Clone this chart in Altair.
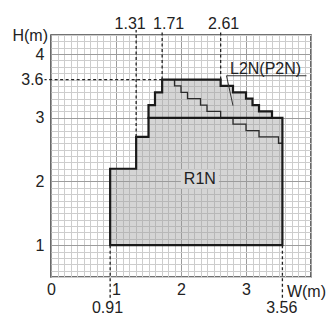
import altair as alt
import pandas as pd

# ---------------- data ----------------
# R1N envelope: step heights (m) starting at each width (m), standing on H = 1
r1n_x = [0.91, 1.31, 1.50, 3.56]
r1n_h = [2.2, 2.7, 3.0, 3.0]
r1n_base = 1.0

# L2N(P2N) envelope above R1N's top (H = 3)
l2n_x = [1.50, 1.60, 1.71, 2.61, 2.80, 3.00, 3.10, 3.20, 3.40]
l2n_h = [3.2, 3.4, 3.6, 3.5, 3.4, 3.3, 3.2, 3.1, 3.0]
l2n_base = 3.0

# thin inner staircases
upper_x = [1.90, 1.90, 2.00, 2.10, 2.30, 2.40, 2.61]
upper_h = [3.6, 3.5, 3.4, 3.3, 3.2, 3.1, 3.0]
lower_x = [2.80, 2.80, 3.00, 3.20, 3.50, 3.56]
lower_h = [3.0, 2.9, 2.8, 2.7, 2.6, 2.6]

# dimension marks
top_dims = [1.31, 1.71, 2.61]
top_dims_from = [2.7, 3.6, 3.6]
bottom_dims = [0.91, 3.56]
height_dim = 3.6

x_labels = [0, 1, 2, 3]
y_labels = [1, 2, 3, 4]
x_domain = [0, 4]
y_domain = [0.5, 4.3]
grid_step = 0.1

# ---------------- styles ----------------
FONT = "Liberation Sans"
INK = "#222222"
FS = 16
top_dx = [-6, 6.5, 3]
bottom_dx = [-2.7, -0.7]

x_grid = [round(x_domain[0] + i * grid_step, 1)
          for i in range(int(round((x_domain[1] - x_domain[0]) / grid_step)) + 1)]
y_grid = [round(y_domain[0] + i * grid_step, 1)
          for i in range(int(round((y_domain[1] - y_domain[0]) / grid_step)) + 1)]

grid_color = {"condition": {"test": "datum.value % 1 === 0", "value": "#9c9c9c"},
              "value": "#cdcdcd"}

x_axis = alt.Axis(values=x_grid, grid=True, gridColor=grid_color, gridWidth=1,
                  ticks=False, domain=False, labelFlush=False, labelOverlap=False,
                  labelExpr=f"indexof({x_labels}, datum.value) >= 0 ? format(datum.value, 'd') : ''",
                  labelPadding=4, labelFontSize=FS, labelFont=FONT, labelColor=INK,
                  title=None, orient="bottom")
y_axis = alt.Axis(values=y_grid, grid=True, gridColor=grid_color, gridWidth=1,
                  ticks=False, domain=False, labelFlush=False, labelOverlap=False,
                  labelExpr=f"indexof({y_labels}, datum.value) >= 0 ? format(datum.value, 'd') : ''",
                  labelPadding=7, labelFontSize=FS, labelFont=FONT, labelColor=INK,
                  title=None, orient="left")

xs = alt.Scale(domain=x_domain, nice=False, zero=False)
ys = alt.Scale(domain=y_domain, nice=False, zero=False)


def X(field="x"):
    return alt.X(f"{field}:Q", scale=xs, axis=x_axis, title=None)


def Y(field="h"):
    return alt.Y(f"{field}:Q", scale=ys, axis=y_axis, title=None)


def frame(xv, hv):
    return pd.DataFrame({"x": xv, "h": hv, "i": list(range(len(xv)))})


def closed(xv, hv, base):
    return frame([xv[0]] + xv + [xv[-1], xv[0]], [base] + hv + [base, base])


layers = []

# filled envelopes
layers.append(alt.Chart(frame(r1n_x, r1n_h)).mark_area(
    interpolate="step-after", color="#9a9a9a", opacity=0.42).encode(
    x=X(), y=Y(), y2=alt.datum(r1n_base)))
layers.append(alt.Chart(frame(l2n_x, l2n_h)).mark_area(
    interpolate="step-after", color="#9a9a9a", opacity=0.42).encode(
    x=X(), y=Y(), y2=alt.datum(l2n_base)))

# R1N label with background box
r1n_lbl = pd.DataFrame({"x": [2.29], "h": [2.04], "t": ["R1N"]})
layers.append(alt.Chart(r1n_lbl).mark_point(
    shape="M-1,-0.5L1,-0.5L1,0.5L-1,0.5Z", size=1444, filled=True,
    color="#d6d6d6", opacity=1, strokeWidth=0).encode(x=X(), y=Y()))
layers.append(alt.Chart(r1n_lbl).mark_text(
    font=FONT, fontSize=FS, color=INK, baseline="middle", align="center").encode(
    x=X(), y=Y(), text="t:N"))

# thin staircases
for xv, hv in [(upper_x, upper_h), (lower_x, lower_h)]:
    layers.append(alt.Chart(frame(xv, hv)).mark_line(
        interpolate="step-after", color="#2a2a2a", strokeWidth=1.3,
        strokeJoin="miter").encode(x=X(), y=Y(), order="i:Q"))

# thick outlines
layers.append(alt.Chart(closed(r1n_x, r1n_h, r1n_base)).mark_line(
    interpolate="step-after", color="#1a1a1a", strokeWidth=2.2,
    strokeJoin="miter", strokeCap="square").encode(x=X(), y=Y(), order="i:Q"))
layers.append(alt.Chart(frame([l2n_x[0]] + l2n_x, [l2n_base] + l2n_h)).mark_line(
    interpolate="step-after", color="#1a1a1a", strokeWidth=2.2,
    strokeJoin="miter", strokeCap="square").encode(x=X(), y=Y(), order="i:Q"))

# dashed dimension lines
dash = dict(color=INK, strokeWidth=1.3, strokeDash=[3, 2.5])
layers.append(alt.Chart(pd.DataFrame({"x": top_dims, "h": top_dims_from})).mark_rule(**dash).encode(
    x=X(), y=Y(), y2=alt.datum(4.38)))
layers.append(alt.Chart(pd.DataFrame({"x": bottom_dims, "h": [r1n_base] * len(bottom_dims)})).mark_rule(**dash).encode(
    x=X(), y=Y(), y2=alt.datum(0.13)))
layers.append(alt.Chart(pd.DataFrame({"x": [top_dims[1]], "h": [height_dim]})).mark_rule(**dash).encode(
    x=X(), x2=alt.datum(-0.1), y=Y()))

# dimension labels
txt = dict(font=FONT, fontSize=FS, color=INK, baseline="middle", align="center")
for v, d in zip(top_dims, top_dx):
    layers.append(alt.Chart(pd.DataFrame({"x": [v], "h": [4.47], "t": [f"{v:.2f}"]})).mark_text(
        dx=d, **txt).encode(x=X(), y=Y(), text="t:N"))
for v, d in zip(bottom_dims, bottom_dx):
    layers.append(alt.Chart(pd.DataFrame({"x": [v], "h": [0.01], "t": [f"{v:.2f}"]})).mark_text(
        dx=d, **txt).encode(x=X(), y=Y(), text="t:N"))
layers.append(alt.Chart(pd.DataFrame({"x": [-0.1], "h": [height_dim], "t": [f"{height_dim:g}"]})).mark_text(
    font=FONT, fontSize=FS, color=INK, baseline="middle", align="right", dx=-1).encode(
    x=X(), y=Y(), text="t:N"))

# axis titles
layers.append(alt.Chart(pd.DataFrame({"x": [-0.32], "h": [4.29], "t": ["H(m)"]})).mark_text(**txt).encode(
    x=X(), y=Y(), text="t:N"))
layers.append(alt.Chart(pd.DataFrame({"x": [3.93], "h": [0.27], "t": ["W(m)"]})).mark_text(**txt).encode(
    x=X(), y=Y(), text="t:N"))

# L2N(P2N) callout
callout = pd.DataFrame({"x": [2.7], "h": [3.66], "t": ["L2N(P2N)"]})
layers.append(alt.Chart(callout).mark_rule(color="#333333", strokeWidth=1).encode(
    x=X(), y=Y(), x2=alt.datum(3.93)))
layers.append(alt.Chart(callout).mark_rule(color="#333333", strokeWidth=1).encode(
    x=X(), y=Y(), x2=alt.datum(2.8), y2=alt.datum(3.19)))
layers.append(alt.Chart(callout).mark_text(
    font=FONT, fontSize=FS, color=INK, baseline="alphabetic", align="left", dx=3.5, dy=-1.5).encode(
    x=X(), y=Y(), text="t:N"))

chart = alt.layer(*layers).properties(
    width=260, height=242,
    autosize=alt.AutoSizeParams(type="none"),
    padding={"left": 43, "top": 27, "right": 15, "bottom": 40},
    background="white",
).configure_view(stroke="#444444", strokeWidth=1.6)

chart.save("out.html", embed_options={"renderer": "svg", "actions": False})
